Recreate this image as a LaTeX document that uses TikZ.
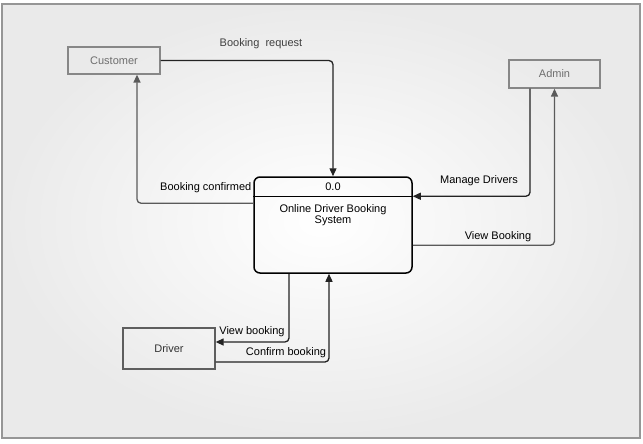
\documentclass[tikz,border=0pt]{standalone}
\usepackage{fontspec}
\setmainfont{Liberation Sans}
\usetikzlibrary{arrows.meta,calc}
\definecolor{FrameClr}{RGB}{150,150,150}
\definecolor{BackClr}{RGB}{234,234,234}
\definecolor{ExtClr}{RGB}{135,135,135}
\definecolor{ExtTxtClr}{RGB}{110,110,110}
\definecolor{FlowClr}{RGB}{35,35,35}

\tikzset{
  entity/.style={draw=ExtClr,line width=1.3pt,text=ExtTxtClr,minimum width=92pt,minimum height=27pt,inner sep=0pt},
  flow/.style={draw=FlowClr,line width=1.3pt,rounded corners=4pt,-{Triangle[length=8pt,width=7pt]}},
  flowlbl/.style={text=black,inner sep=0pt}
}

\begin{document}
\begin{tikzpicture}[x=1pt,y=-1pt,font=\fontsize{11}{12}\selectfont]
\useasboundingbox (0,0) rectangle (643,444);

% Background and frame.
\fill[white] (0,0) rectangle (643,444);
\shade[inner color=white,outer color=BackClr] (2,4) rectangle (640,438);
\draw[FrameClr,line width=1.2pt] (2,4) rectangle (640,438);

% External entities.
\node[entity] (cust) at (114,60.5) {Customer};
\node[entity,minimum width=91pt,minimum height=28pt] (adm) at (554.5,74) {Admin};
\node[entity,draw=ExtClr!70!black,text=black!80,minimum height=41pt] (drv) at (169,348.5) {Driver};

% The process.
\node[draw,line width=1.5pt,rounded corners=6pt,minimum width=158pt,minimum height=96pt] (sys) at (333,225) {};
\draw[line width=1.5pt] ([yshift=-20pt]sys.north west) -- ([yshift=-20pt]sys.north east);
\node (num) at (333,186.5) {0.0};
\node[align=center,inner sep=0pt] (name) at (333,215) {Online Driver Booking\\[-1.5pt]System};

% Data flows.
\draw[flow] (cust.east) -| (sys.north);
\draw[flow,draw=FlowClr!75] ([yshift=-27pt]sys.north west) -| ([xshift=23pt]cust.south);
\draw[flow] ([xshift=-24.5pt]adm.south) |- ([yshift=-20pt]sys.north east);
\draw[flow,draw=FlowClr!75] ([yshift=-69pt]sys.north east) -| (adm.south);
\draw[flow] ([xshift=-44pt]sys.south) |- ([yshift=6.5pt]drv.east);
\draw[flow] ([yshift=-13.5pt]drv.east) -| ([xshift=-4pt]sys.south);

% Flow labels.
\node[flowlbl,text=black!75] (lreq) at (261,43.5) {Booking\ \ request};
\node[flowlbl,anchor=east] (lconf) at (251.5,188) {Booking confirmed};
\node[flowlbl] (lman) at (479,181) {Manage Drivers};
\node[flowlbl] (lview) at (498,237) {View Booking};
\node[flowlbl] (ldview) at (252,331.5) {View booking};
\node[flowlbl] (ldconf) at (286,353) {Confirm booking};

\end{tikzpicture}
\end{document}
